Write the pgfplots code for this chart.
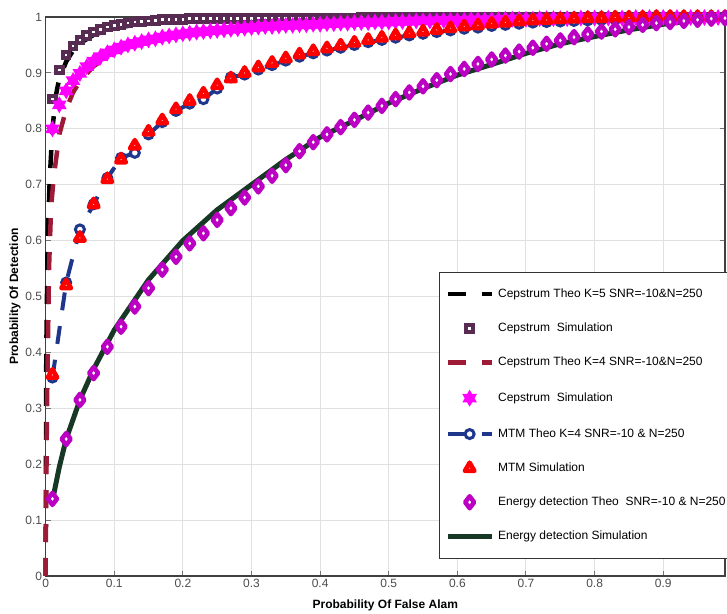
\documentclass[border=0pt]{standalone}
\usepackage{fontspec}
\setmainfont{Liberation Sans}
\usepackage{pgfplots}
\pgfplotsset{compat=1.18}

\definecolor{cepsq}{RGB}{88,44,82}
\definecolor{cepbr}{RGB}{158,27,55}
\definecolor{cepmag}{RGB}{255,0,255}
\definecolor{mtmblue}{RGB}{30,55,140}
\definecolor{mtmred}{RGB}{255,0,0}
\definecolor{enpur}{RGB}{187,0,196}
\definecolor{engreen}{RGB}{24,56,38}

% six pointed star, like the matlab 'h' marker
\pgfdeclareplotmark{hexagram}{%
  \pgfpathmoveto{\pgfqpointpolar{90}{\pgfplotmarksize}}%
  \pgfpathlineto{\pgfqpointpolar{210}{\pgfplotmarksize}}%
  \pgfpathlineto{\pgfqpointpolar{330}{\pgfplotmarksize}}%
  \pgfpathclose
  \pgfpathmoveto{\pgfqpointpolar{270}{\pgfplotmarksize}}%
  \pgfpathlineto{\pgfqpointpolar{30}{\pgfplotmarksize}}%
  \pgfpathlineto{\pgfqpointpolar{150}{\pgfplotmarksize}}%
  \pgfpathclose
  \pgfusepathqfill
}

\pgfplotsset{leg/.style={legend image code/.code={%
  \draw[mark repeat=2,mark phase=2,##1] plot coordinates {(0pt,0pt)(22pt,0pt)(44pt,0pt)};}}}

\begin{document}
\begin{tikzpicture}
\path[use as bounding box] (-45.6pt,-37pt) rectangle (681.4pt,576pt);
\begin{axis}[
  at={(0pt,0pt)}, anchor=south west,
  scale only axis, width=679.4pt, height=559pt,
  xmin=0, xmax=0.99, ymin=0, ymax=1,
  clip=false,
  xtick={0,0.1,0.2,0.3,0.4,0.5,0.6,0.7,0.8,0.9},
  ytick={0,0.1,0.2,0.3,0.4,0.5,0.6,0.7,0.8,0.9,1},
  grid=major, grid style={black!12,line width=1pt},
  axis line style={black!75,line width=1.2pt},
  tick align=inside, major tick length=5pt, tick style={black!55,line width=1pt},
  /pgf/number format/assume math mode=true,
  tick label style={font=\fontsize{12}{14}\selectfont, text=black!70},
  xlabel={Probability Of False Alam},
  ylabel={Probability Of Detection},
  every axis x label/.style={at={(axis description cs:0.5,-0.052)},anchor=center,font=\fontsize{12}{14}\selectfont\bfseries},
  every axis y label/.style={at={(axis description cs:-0.045,0.5)},anchor=center,rotate=90,font=\fontsize{12}{14}\selectfont\bfseries},
  legend cell align=left,
  legend style={at={(axis description cs:0.5785,0.544)}, anchor=north west,
    draw=black!80, line width=1pt, fill=white, font=\fontsize{12}{14}\selectfont,
    inner xsep=6pt, inner ysep=15pt, row sep=20.6pt, column sep=3pt,
    nodes={inner xsep=1pt, inner ysep=1pt, text height=9pt, text depth=2.5pt}},
]

% Cepstrum theory K=5
\addplot[black, line width=4.5pt, dash pattern=on 18pt off 16pt, leg] coordinates {
(0,0) (0.001,0.40) (0.003,0.60) (0.006,0.71) (0.01,0.80) (0.015,0.86) (0.02,0.89)
(0.03,0.92) (0.04,0.94) (0.05,0.953) (0.07,0.968) (0.1,0.98) (0.15,0.99) (0.2,0.995)
(0.3,0.998) (0.5,0.999) (0.99,1)
};
\addlegendentry{Cepstrum Theo K=5 SNR=-10\&N=250}

% Cepstrum simulation (squares)
\addplot[only marks, mark=square*, mark size=3.3pt,
  mark options={draw=cepsq, fill=white, line width=4pt, solid}, leg] coordinates {
(0.01,0.853) (0.02,0.905) (0.03,0.932) (0.04,0.948) (0.05,0.959) (0.06,0.967) (0.07,0.973) (0.08,0.978) (0.09,0.982) (0.10,0.985)
(0.11,0.987) (0.12,0.989) (0.13,0.991) (0.14,0.992) (0.15,0.993) (0.16,0.994) (0.17,0.995) (0.18,0.995) (0.19,0.996) (0.20,0.996)
(0.21,0.997) (0.22,0.997) (0.23,0.997) (0.24,0.997) (0.25,0.997) (0.26,0.997) (0.27,0.997) (0.28,0.997) (0.29,0.997) (0.30,0.997)
(0.31,0.998) (0.32,0.998) (0.33,0.998) (0.34,0.998) (0.35,0.998) (0.36,0.998) (0.37,0.998) (0.38,0.998) (0.39,0.998) (0.40,0.998)
(0.41,0.998) (0.42,0.998) (0.43,0.998) (0.44,0.998) (0.45,0.998) (0.46,0.999) (0.47,0.999) (0.48,0.999) (0.49,0.999) (0.50,0.999)
(0.51,0.999) (0.52,0.999) (0.53,0.999) (0.54,0.999) (0.55,0.999) (0.56,0.999) (0.57,0.999) (0.58,0.999) (0.59,0.999) (0.60,0.999)
(0.61,0.999) (0.62,0.999) (0.63,0.999) (0.64,0.999) (0.65,0.999) (0.66,1) (0.67,1) (0.68,1) (0.69,1) (0.70,1)
(0.71,1) (0.72,1) (0.73,1) (0.74,1) (0.75,1) (0.76,1) (0.77,1) (0.78,1) (0.79,1) (0.80,1)
(0.81,1) (0.82,1) (0.83,1) (0.84,1) (0.85,1) (0.86,1) (0.87,1) (0.88,1) (0.89,1) (0.90,1)
(0.91,1) (0.92,1) (0.93,1) (0.94,1) (0.95,1) (0.96,1) (0.97,1) (0.98,1) (0.99,1)
};
\addlegendentry{Cepstrum~~Simulation}

% Cepstrum theory K=4
\addplot[cepbr, line width=4.5pt, dash pattern=on 18pt off 16pt, leg] coordinates {
(0,0) (0.002,0.30) (0.005,0.55) (0.008,0.66) (0.012,0.715) (0.02,0.79) (0.03,0.835)
(0.04,0.865) (0.05,0.885) (0.07,0.912) (0.1,0.937) (0.15,0.958) (0.2,0.97) (0.3,0.982)
(0.4,0.988) (0.5,0.992) (0.6,0.995) (0.7,0.997) (0.8,0.998) (0.9,0.999) (0.99,1)
};
\addlegendentry{Cepstrum Theo K=4 SNR=-10\&N=250}

% Cepstrum simulation (stars)
\addplot[only marks, color=cepmag, mark=hexagram, mark size=8.5pt,
  mark options={fill=cepmag, solid}, leg] coordinates {
(0.01,0.800) (0.02,0.843) (0.03,0.868) (0.04,0.886) (0.05,0.899) (0.06,0.911) (0.07,0.921) (0.08,0.929) (0.09,0.936) (0.10,0.941)
(0.11,0.946) (0.12,0.950) (0.13,0.953) (0.14,0.956) (0.15,0.959) (0.16,0.961) (0.17,0.964) (0.18,0.966) (0.19,0.968) (0.20,0.970)
(0.21,0.971) (0.22,0.973) (0.23,0.974) (0.24,0.975) (0.25,0.976) (0.26,0.977) (0.27,0.978) (0.28,0.979) (0.29,0.980) (0.30,0.981)
(0.31,0.982) (0.32,0.983) (0.33,0.983) (0.34,0.984) (0.35,0.985) (0.36,0.985) (0.37,0.986) (0.38,0.986) (0.39,0.987) (0.40,0.987)
(0.41,0.988) (0.42,0.988) (0.43,0.989) (0.44,0.989) (0.45,0.990) (0.46,0.990) (0.47,0.990) (0.48,0.991) (0.49,0.991) (0.50,0.991)
(0.51,0.992) (0.52,0.992) (0.53,0.992) (0.54,0.993) (0.55,0.993) (0.56,0.993) (0.57,0.993) (0.58,0.994) (0.59,0.994) (0.60,0.994)
(0.61,0.994) (0.62,0.995) (0.63,0.995) (0.64,0.995) (0.65,0.995) (0.66,0.995) (0.67,0.996) (0.68,0.996) (0.69,0.996) (0.70,0.996)
(0.71,0.996) (0.72,0.997) (0.73,0.997) (0.74,0.997) (0.75,0.997) (0.76,0.997) (0.77,0.997) (0.78,0.998) (0.79,0.998) (0.80,0.998)
(0.81,0.998) (0.82,0.998) (0.83,0.998) (0.84,0.998) (0.85,0.998) (0.86,0.999) (0.87,0.999) (0.88,0.999) (0.89,0.999) (0.90,0.999)
(0.91,0.999) (0.92,0.999) (0.93,0.999) (0.94,0.999) (0.95,0.999) (0.96,0.999) (0.97,0.999) (0.98,0.999) (0.99,0.999)
};
\addlegendentry{Cepstrum~~Simulation}

% MTM theory
\addplot[mtmblue, line width=4pt, dash pattern=on 18pt off 16pt, mark=*, mark size=4.5pt,
  mark options={solid, draw=mtmblue, fill=white, line width=3pt}, leg] coordinates {
(0.01,0.355) (0.03,0.525) (0.05,0.620) (0.07,0.665) (0.09,0.712) (0.11,0.748) (0.13,0.757) (0.15,0.790) (0.17,0.812) (0.19,0.832)
(0.21,0.845) (0.23,0.853) (0.25,0.872) (0.27,0.892) (0.29,0.897) (0.31,0.906) (0.33,0.914) (0.35,0.922) (0.37,0.929) (0.39,0.935)
(0.41,0.940) (0.43,0.945) (0.45,0.950) (0.47,0.955) (0.49,0.959) (0.51,0.963) (0.53,0.967) (0.55,0.970) (0.57,0.973) (0.59,0.976)
(0.61,0.979) (0.63,0.981) (0.65,0.984) (0.67,0.986) (0.69,0.988) (0.71,0.990) (0.73,0.991) (0.75,0.992) (0.77,0.993) (0.79,0.994)
(0.81,0.995) (0.83,0.996) (0.85,0.997) (0.87,0.997) (0.89,0.998) (0.91,0.998) (0.93,0.999) (0.95,0.999) (0.97,1.000) (0.99,1.000)
};
\addlegendentry{MTM Theo K=4 SNR=-10 \& N=250}

% MTM simulation
\addplot[only marks, mark=triangle*, mark size=5.5pt,
  mark options={draw=mtmred, fill=white, line width=4.5pt, line join=round, solid}, leg] coordinates {
(0.01,0.360) (0.03,0.520) (0.05,0.605) (0.07,0.665) (0.09,0.710) (0.11,0.745) (0.13,0.770) (0.15,0.795) (0.17,0.815) (0.19,0.835)
(0.21,0.850) (0.23,0.863) (0.25,0.878) (0.27,0.890) (0.29,0.900) (0.31,0.910) (0.33,0.918) (0.35,0.926) (0.37,0.933) (0.39,0.939)
(0.41,0.944) (0.43,0.949) (0.45,0.954) (0.47,0.959) (0.49,0.963) (0.51,0.967) (0.53,0.971) (0.55,0.974) (0.57,0.977) (0.59,0.980)
(0.61,0.983) (0.63,0.985) (0.65,0.988) (0.67,0.990) (0.69,0.992) (0.71,0.994) (0.73,0.995) (0.75,0.996) (0.77,0.997) (0.79,0.998)
(0.81,0.998) (0.83,0.999) (0.85,0.999) (0.87,0.999) (0.89,1.000) (0.91,1.000) (0.93,1.000) (0.95,1.000) (0.97,1.000) (0.99,1.000)
};
\addlegendentry{MTM Simulation}

% Energy detection theory
\addplot[only marks, mark=diamond*, mark size=6pt,
  mark options={draw=enpur, fill=white, line width=4.5pt, line join=round, solid}, leg] coordinates {
(0.01,0.138) (0.03,0.245) (0.05,0.315) (0.07,0.363) (0.09,0.410) (0.11,0.446) (0.13,0.482) (0.15,0.515) (0.17,0.548) (0.19,0.571)
(0.21,0.595) (0.23,0.613) (0.25,0.637) (0.27,0.658) (0.29,0.677) (0.31,0.697) (0.33,0.716) (0.35,0.735) (0.37,0.760) (0.39,0.776)
(0.41,0.790) (0.43,0.803) (0.45,0.816) (0.47,0.829) (0.49,0.841) (0.51,0.853) (0.53,0.865) (0.55,0.876) (0.57,0.887) (0.59,0.898)
(0.61,0.907) (0.63,0.916) (0.65,0.924) (0.67,0.931) (0.69,0.938) (0.71,0.945) (0.73,0.952) (0.75,0.958) (0.77,0.964) (0.79,0.969)
(0.81,0.974) (0.83,0.978) (0.85,0.982) (0.87,0.986) (0.89,0.989) (0.91,0.991) (0.93,0.993) (0.95,0.995) (0.97,0.997) (0.99,0.998)
};
\addlegendentry{Energy detection Theo~~SNR=-10 \& N=250}

% Energy detection simulation
\addplot[engreen, line width=5pt, leg] coordinates {
(0.01,0.135) (0.02,0.195) (0.03,0.245) (0.05,0.315) (0.07,0.370) (0.10,0.440) (0.15,0.530) (0.20,0.600)
(0.25,0.655) (0.30,0.700) (0.35,0.745) (0.40,0.785) (0.45,0.815) (0.50,0.846) (0.55,0.872) (0.60,0.896)
(0.65,0.915) (0.70,0.935) (0.75,0.952) (0.80,0.965) (0.85,0.977) (0.90,0.987) (0.95,0.995) (0.99,1.000)
};
\addlegendentry{Energy detection Simulation}

\end{axis}
\end{tikzpicture}
\end{document}
